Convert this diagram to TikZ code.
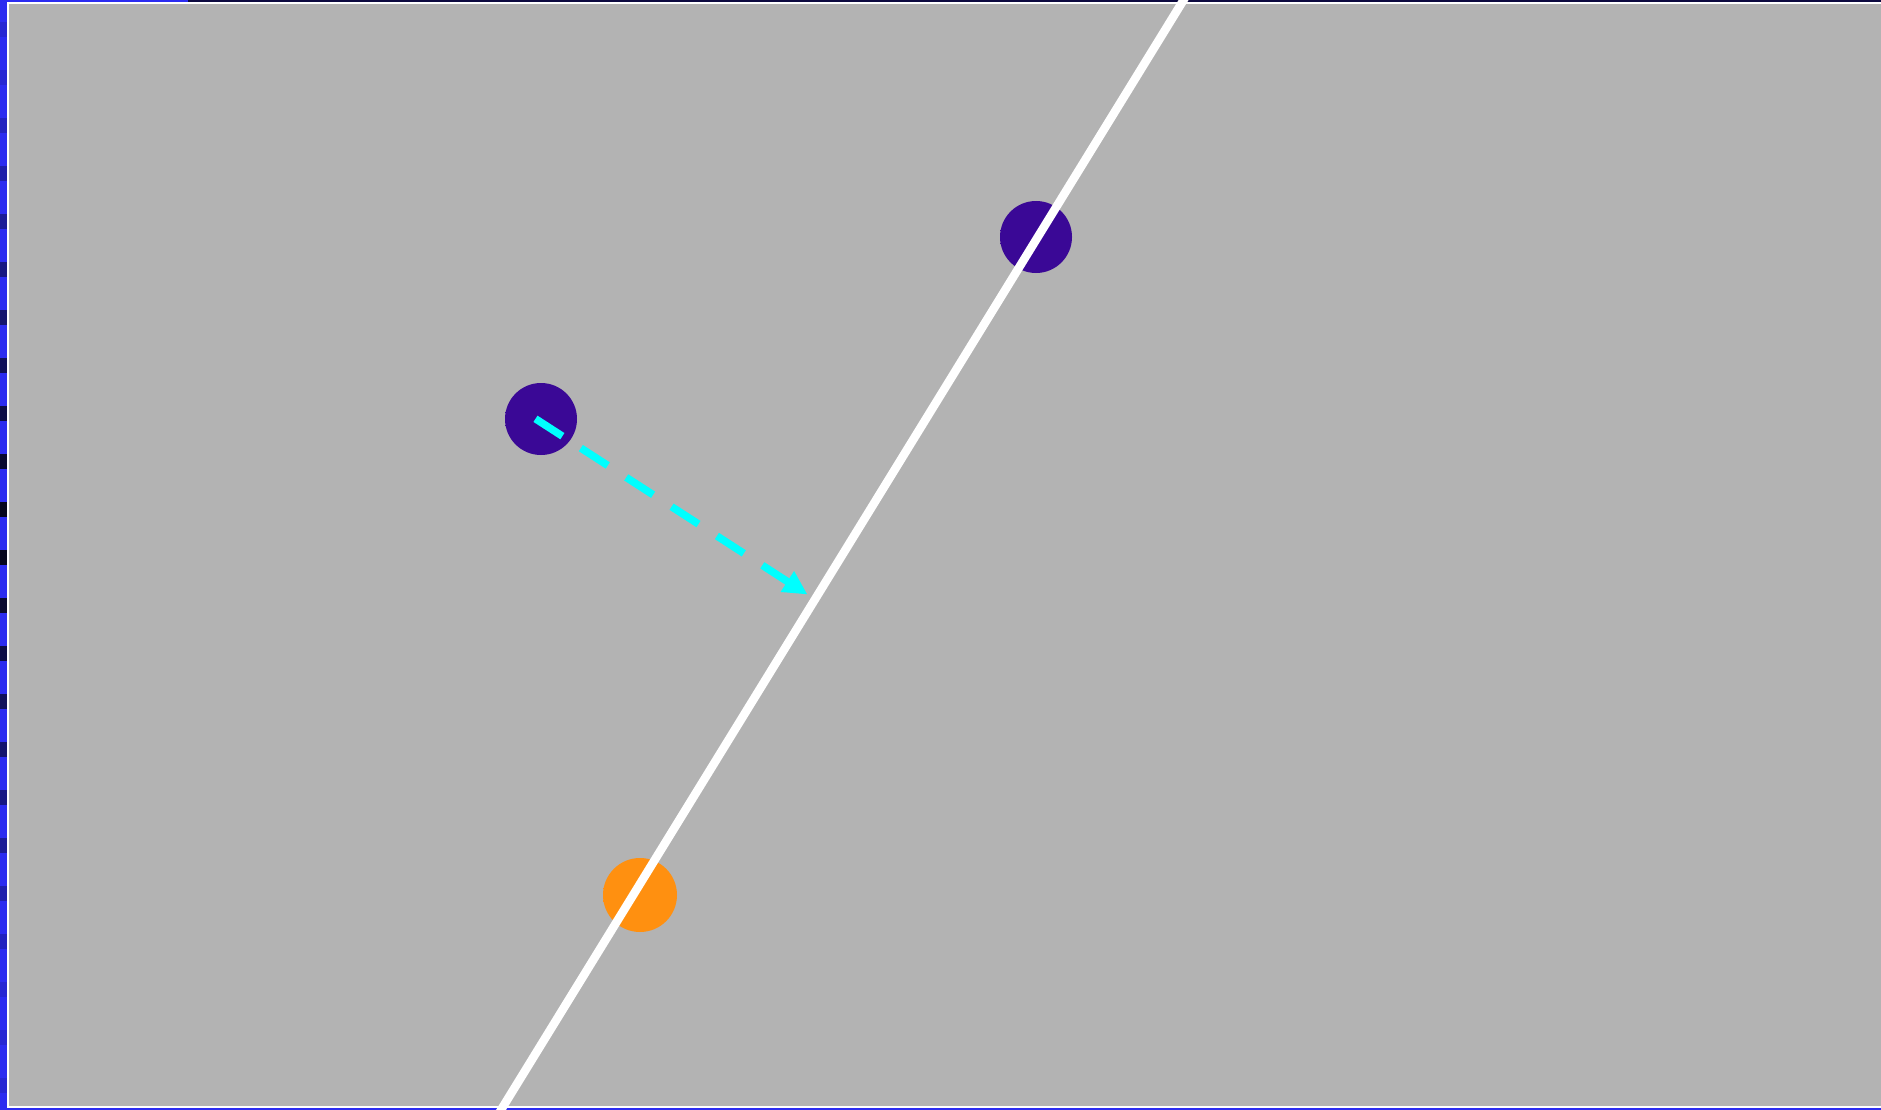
\documentclass[tikz,border=0pt]{standalone}
\usetikzlibrary{arrows.meta}
\definecolor{bggray}{RGB}{179,179,179}
\definecolor{edgeblue}{RGB}{44,44,240}
\definecolor{topnavy}{RGB}{13,10,64}
\definecolor{indigodot}{RGB}{58,8,150}
\definecolor{orangedot}{RGB}{255,144,16}
\definecolor{arrowcyan}{RGB}{0,255,255}
\colorlet{indigosoft}{indigodot!75!bggray}
\colorlet{indigofaint}{indigodot!35!bggray}
\colorlet{orangesoft}{orangedot!65!bggray}
\pgfdeclareradialshading{purplefuzz}{\pgfpoint{0bp}{0bp}}{%
  color(0bp)=(indigodot); color(43bp)=(indigodot); color(47bp)=(indigosoft);
  color(50bp)=(indigofaint); color(51bp)=(bggray)}
\pgfdeclareradialshading{orangefuzz}{\pgfpoint{0bp}{0bp}}{%
  color(0bp)=(orangedot); color(47bp)=(orangedot); color(50bp)=(orangesoft);
  color(51bp)=(bggray)}
\tikzset{
  purpledot/.style={circle, inner sep=0pt, minimum size=72pt, shading=purplefuzz},
  orangeball/.style={circle, inner sep=0pt, minimum size=74pt, shading=orangefuzz},
  divider/.style={draw=white, line width=8.5pt},
  pusharrow/.style={draw=arrowcyan, line width=7.5pt, dash pattern=on 32pt off 22pt,
    -{Triangle[length=24pt,width=23pt]}},
}
\begin{document}
\begin{tikzpicture}[x=1pt,y=-1pt]
\useasboundingbox (0,0) rectangle (1881,1110);
\clip (0,0) rectangle (1881,1110);
% outer frame
\fill[edgeblue] (0,0) rectangle (1881,1110);
\fill[topnavy] (188,0) rectangle (1881,2);
\foreach \k in {0,...,22}{
  \pgfmathsetmacro\yy{22+48*\k}
  \pgfmathtruncatemacro\pp{min(88,8+0.1778*abs(\yy-525))}
  \fill[edgeblue!\pp!black] (0,\yy) rectangle (7,\yy+15);
}
\fill[white] (7,2) rectangle (1881,1107.7);
\fill[bggray] (9,4) rectangle (1881,1105.5);
% dots
\node[purpledot] (c1) at (1036,237) {};
\node[purpledot] (c2) at (541,419) {};
\node[orangeball] (c3) at (640,895) {};
% dividing line
\coordinate (ltop) at (1186,-4);
\coordinate (lbot) at (498.5,1114);
\draw[divider] (ltop) -- (lbot);
% arrow
\coordinate (astart) at (535.5,418.8);
\coordinate (atip) at (807.5,594.5);
\draw[pusharrow] (astart) -- (atip);
\end{tikzpicture}
\end{document}
